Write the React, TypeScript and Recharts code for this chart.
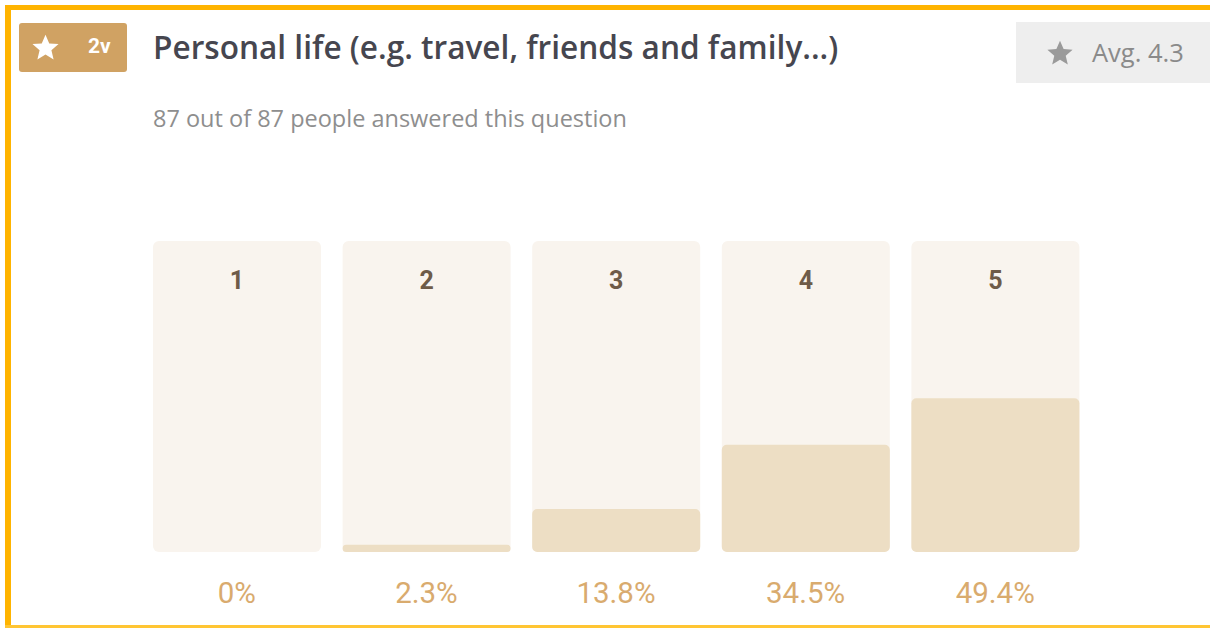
import { BarChart, Bar, XAxis, YAxis, LabelList } from 'recharts';

const ratings = ['1', '2', '3', '4', '5'];
const shares = [0, 2.3, 13.8, 34.5, 49.4];
const shareLabels = ['0%', '2.3%', '13.8%', '34.5%', '49.4%'];
const FULL = 100;

const data = ratings.map((rating, i) => ({
  rating,
  share: shares[i],
  full: FULL,
  label: shareLabels[i]
}));

const FONT = '"Open Sans", Roboto, sans-serif';

function RatingLabel(props: any) {
  const { x, y, width, value } = props;
  return (
    <text
      x={x + width / 2}
      y={y + 39}
      textAnchor='middle'
      dominantBaseline='central'
      fontFamily='Roboto, sans-serif'
      fontSize={25}
      fontWeight={700}
      fill='#6e5b48'
    >
      {value}
    </text>
  );
}

function BottomTick(props: any) {
  const { x, y, index } = props;
  return (
    <text
      x={x}
      y={y + 33}
      textAnchor='middle'
      dominantBaseline='central'
      fontFamily='Roboto, sans-serif'
      fontSize={29.5}
      fill='#d9ab6e'
    >
      {shareLabels[index]}
    </text>
  );
}

function Star({ size, color }: { size: number; color: string }) {
  return (
    <svg width={size} height={size} viewBox='0 0 24 24' style={{ display: 'block' }}>
      <path
        d='M12 1.5l3.1 7.1 7.7.6-5.9 5.1 1.8 7.6L12 17.8l-6.7 4.1 1.8-7.6-5.9-5.1 7.7-.6z'
        fill={color}
      />
    </svg>
  );
}

export default function App() {
  return (
    <div
      style={{
        position: 'absolute',
        left: 0,
        top: 0,
        width: 1210,
        height: 628,
        background: '#fff',
        fontFamily: FONT,
        overflow: 'hidden'
      }}
    >
      {/* frame */}
      <div style={{ position: 'absolute', left: 5, top: 5, width: 1205, height: 5, background: '#ffb400' }} />
      <div style={{ position: 'absolute', left: 5, top: 5, width: 6, height: 623, background: '#ffb400' }} />
      <div style={{ position: 'absolute', left: 5, top: 625, width: 1205, height: 3, background: '#ffc533' }} />

      {/* badge */}
      <div
        style={{
          position: 'absolute',
          left: 19,
          top: 23,
          width: 108,
          height: 49,
          background: '#d0a263',
          borderRadius: 3
        }}
      >
        <div style={{ position: 'absolute', left: 12, top: 10 }}>
          <Star size={29} color='#fff' />
        </div>
        <div
          style={{
            position: 'absolute',
            left: 69,
            top: 10,
            color: '#fff',
            fontWeight: 700,
            fontSize: 21,
            lineHeight: '26px',
            fontFamily: 'Roboto, sans-serif'
          }}
        >
          2v
        </div>
      </div>

      <div
        style={{
          position: 'absolute',
          left: 153,
          top: 27,
          fontSize: 31.6,
          fontWeight: 600,
          color: '#46464f',
          lineHeight: '40px',
          whiteSpace: 'nowrap'
        }}
      >
        Personal life (e.g. travel, friends and family...)
      </div>

      <div
        style={{
          position: 'absolute',
          left: 153,
          top: 103,
          fontSize: 23.5,
          color: '#8e8e8e',
          lineHeight: '30px',
          whiteSpace: 'nowrap'
        }}
      >
        87 out of 87 people answered this question
      </div>

      {/* average box */}
      <div
        style={{
          position: 'absolute',
          left: 1016,
          top: 22,
          width: 194,
          height: 61,
          background: '#eeeeee'
        }}
      >
        <div style={{ position: 'absolute', left: 30, top: 17 }}>
          <Star size={28} color='#9a9a9a' />
        </div>
        <div
          style={{
            position: 'absolute',
            left: 76,
            top: 14,
            fontSize: 25.5,
            color: '#8a8a8a',
            lineHeight: '32px',
            whiteSpace: 'nowrap'
          }}
        >
          Avg. 4.3
        </div>
      </div>

      <div style={{ position: 'absolute', left: 0, top: 0 }}>
        <BarChart
          width={1210}
          height={628}
          data={data}
          margin={{ top: 241, right: 120, bottom: 16, left: 142 }}
          barCategoryGap={11}
        >
          <XAxis xAxisId='bg' dataKey='rating' hide />
          <XAxis
            dataKey='rating'
            height={60}
            axisLine={false}
            tickLine={false}
            tick={<BottomTick />}
            interval={0}
          />
          <YAxis hide domain={[0, FULL]} />
          <Bar
            xAxisId='bg'
            dataKey='full'
            fill='#f9f4ee'
            radius={6}
            isAnimationActive={false}
          >
            <LabelList dataKey='rating' content={<RatingLabel />} />
          </Bar>
          <Bar dataKey='share' fill='#eddec4' radius={5} isAnimationActive={false} />
        </BarChart>
      </div>
    </div>
  );
}
